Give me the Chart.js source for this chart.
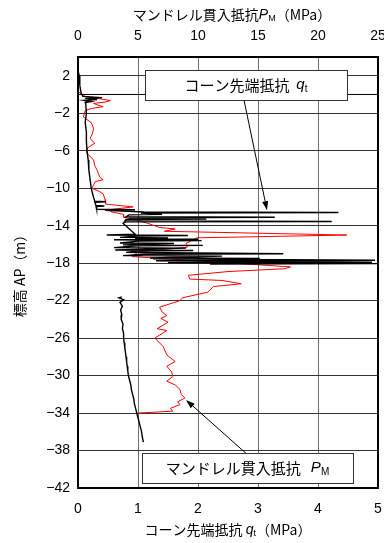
<!DOCTYPE html>
<html>
<head>
<meta charset="utf-8">
<script src="https://cdn.jsdelivr.net/npm/chart.js@4.4.1/dist/chart.umd.min.js"></script>
<style>
  html, body { margin: 0; padding: 0; background: #fff; }
  canvas { display: block; }
</style>
</head>
<body>
<canvas id="profile" width="384" height="543"></canvas>
<script>
// axis ticks
const qtTicks = [0, 1, 2, 3, 4, 5];
const pmTicks = [0, 5, 10, 15, 20, 25];
const elevTicks = [2, -2, -6, -10, -14, -18, -22, -26, -30, -34, -38, -42];

// cone tip resistance qt (MPa), upper sounding
const qtUpperElev = [2.6, 2.0, 1.0, 0.2, -0.2, -0.35, -0.42, -0.55, -0.62, -0.75, -0.85, -1.1, -2.0, -3.0, -4.0, -5.0, -6.0, -7.0, -8.0, -9.0, -10.0, -11.0,
  -11.4, -11.45, -11.5, -11.85, -11.9, -11.95, -12.25, -12.3, -12.35, -12.55, -12.6, -12.65, -12.8, -12.85, -13.05, -13.1, -13.15, -13.3, -13.35,
  -13.5, -13.55, -13.6, -13.75, -14.9, -15.0, -15.05, -15.1, -15.25, -15.3, -15.4, -15.45, -15.5, -15.6, -15.65, -15.85, -15.9, -16.05, -16.1, -16.15,
  -16.35, -16.4, -16.6, -16.65, -16.7, -16.85, -16.9, -17.0, -17.05, -17.2, -17.25, -17.45, -17.5, -17.55, -17.7, -17.75, -17.9, -17.95, -18.05, -18.1];
const qtUpperVal = [0.00, 0.02, 0.03, 0.05, 0.08, 0.40, 0.12, 0.32, 0.10, 0.22, 0.12, 0.13, 0.14, 0.12, 0.14, 0.14, 0.15, 0.17, 0.18, 0.20, 0.22, 0.26,
  0.28, 0.46, 0.28, 0.30, 0.44, 0.30, 0.31, 0.95, 0.45, 1.10, 4.34, 1.05, 1.40, 0.85, 0.80, 3.28, 0.85, 2.14, 0.80,
  0.78, 4.23, 0.80, 0.75, 0.95, 0.48, 1.83, 1.00, 0.70, 1.50, 0.95, 2.00, 0.60, 2.06, 1.00, 0.70, 1.60, 0.75, 2.08, 1.00,
  0.60, 1.80, 0.62, 1.92, 1.00, 0.80, 1.50, 3.42, 1.10, 0.75, 2.40, 1.20, 3.03, 1.25, 4.95, 1.30, 4.90, 1.50, 5.00, 2.20];

// cone tip resistance qt (MPa), lower sounding
const qtLowerElev = [-21.6, -21.7, -21.9, -22.2, -22.6, -23.0, -23.5, -24.0, -24.5, -25.0, -25.5, -26.0, -26.5, -27.0, -27.5, -28.0, -28.5,
  -29.0, -29.5, -30.0, -30.5, -31.0, -31.5, -32.0, -32.5, -33.0, -33.5, -34.0, -34.5, -35.0, -35.5, -36.0, -36.5, -37.1];
const qtLowerVal = [0.73, 0.68, 0.76, 0.70, 0.74, 0.71, 0.73, 0.72, 0.75, 0.74, 0.76, 0.76, 0.77, 0.78, 0.79, 0.80, 0.81,
  0.82, 0.83, 0.84, 0.86, 0.88, 0.89, 0.91, 0.93, 0.94, 0.96, 0.98, 1.00, 1.02, 1.04, 1.06, 1.07, 1.09];

// mandrel penetration resistance PM (MPa)
const pmElev = [0.3, -0.2, -0.45, -0.65, -0.8, -0.95, -1.1, -1.3, -1.5, -1.7, -2.4, -3.0, -3.6, -4.2, -4.7, -5.2, -5.7, -6.2, -7.0, -7.6,
  -8.1, -8.8, -9.1, -9.3, -10.0, -10.3, -10.6, -11.2, -11.7, -12.0, -12.3, -12.5, -12.8, -13.1, -13.4, -13.7, -14.2, -14.35, -14.6, -15.0,
  -15.3, -15.5, -15.9, -16.3, -16.8, -17.3, -18.4, -18.6, -18.9, -19.3, -19.7, -19.85, -20.2, -20.5, -21.1, -21.7, -22.0, -22.7, -23.2,
  -23.6, -23.9, -24.3, -25.0, -25.2, -26.0, -26.9, -27.8, -28.5, -29.0, -29.6, -30.1, -30.6, -31.0, -31.5, -32.0, -32.4, -32.8, -33.1,
  -33.5, -33.8, -33.9, -34.0];
const pmVal = [0.0, 0.6, 1.8, 2.7, 2.3, 1.3, 1.6, 2.1, 1.1, 0.6, 0.45, 1.1, 1.3, 1.2, 1.0, 1.4, 0.8, 0.7, 1.3, 1.4,
  1.6, 1.8, 2.1, 1.45, 1.15, 1.7, 2.1, 2.25, 2.3, 4.6, 2.6, 2.7, 3.8, 3.8, 4.9, 5.7, 6.8, 8.1, 7.2, 22.4,
  9.9, 9.6, 9.0, 9.1, 5.0, 4.5, 17.7, 17.2, 12.5, 9.2, 9.3, 12.0, 13.6, 11.3, 10.8, 8.7, 8.5, 6.8, 7.0,
  7.4, 6.9, 7.5, 6.6, 7.4, 6.4, 7.1, 7.4, 8.1, 7.4, 7.8, 7.9, 7.4, 8.1, 8.5, 8.6, 8.9, 8.3, 8.5,
  7.7, 7.9, 6.5, 5.0];

// ground line
const groundElev = 0;

const toPoints = (vals, elevs) => vals.map((v, i) => ({ x: v, y: elevs[i] }));
const fixedTicks = list => scale => { scale.ticks = list.map(v => ({ value: v })); };

const jpFont = '"Noto Sans CJK JP", sans-serif';
const numFont = '"Liberation Sans", Arial, sans-serif';

function drawRich(ctx, parts, cx, cy) {
  let total = 0;
  parts.forEach(p => { ctx.font = p.font; p.w = ctx.measureText(p.text).width; total += p.w; });
  let x = cx - total / 2;
  ctx.textAlign = 'left';
  ctx.textBaseline = 'middle';
  ctx.fillStyle = '#000';
  parts.forEach(p => { ctx.font = p.font; ctx.fillText(p.text, x, cy + (p.dy || 0)); x += p.w; });
}

function arrow(ctx, x0, y0, x1, y1) {
  const ang = Math.atan2(y1 - y0, x1 - x0);
  const len = 9, half = 3;
  ctx.beginPath();
  ctx.moveTo(x0, y0);
  ctx.lineTo(x1 - Math.cos(ang) * len, y1 - Math.sin(ang) * len);
  ctx.stroke();
  ctx.beginPath();
  ctx.moveTo(x1, y1);
  ctx.lineTo(x1 - Math.cos(ang) * len - Math.sin(ang) * half, y1 - Math.sin(ang) * len + Math.cos(ang) * half);
  ctx.lineTo(x1 - Math.cos(ang) * len + Math.sin(ang) * half, y1 - Math.sin(ang) * len - Math.cos(ang) * half);
  ctx.closePath();
  ctx.fill();
}

function labelBox(ctx, sx, sy, x0, x1, y0, y1, parts) {
  const l = sx.getPixelForValue(x0), r = sx.getPixelForValue(x1);
  const t = sy.getPixelForValue(y0), b = sy.getPixelForValue(y1);
  ctx.fillStyle = '#fff';
  ctx.fillRect(l, t, r - l, b - t);
  ctx.strokeStyle = '#333';
  ctx.lineWidth = 1;
  ctx.strokeRect(Math.round(l) + 0.5, Math.round(t) + 0.5, Math.round(r - l), Math.round(b - t));
  drawRich(ctx, parts, (l + r) / 2, (t + b) / 2);
}

const overlay = {
  id: 'overlay',
  afterDatasetsDraw(chart) {
    const { ctx, chartArea: a, scales } = chart;
    const { x, x2, y } = scales;
    ctx.save();

    // callouts
    ctx.strokeStyle = '#000';
    ctx.fillStyle = '#000';
    ctx.lineWidth = 1;
    arrow(ctx, x.getPixelForValue(2.77), y.getPixelForValue(-0.7), x.getPixelForValue(3.15), y.getPixelForValue(-12.35));
    arrow(ctx, x.getPixelForValue(2.8), y.getPixelForValue(-38.3), x2.getPixelForValue(9.0), y.getPixelForValue(-32.6));

    labelBox(ctx, x, y, 1.12, 4.48, 2.6, -0.62, [
      { text: 'コーン先端抵抗  ', font: '15px ' + jpFont },
      { text: 'q', font: 'italic 15px ' + numFont },
      { text: 't', font: '10px ' + numFont, dy: 4 }
    ]);
    labelBox(ctx, x, y, 1.07, 4.58, -38.27, -41.47, [
      { text: 'マンドレル貫入抵抗   ', font: '15px ' + jpFont },
      { text: 'P', font: 'italic 15px ' + numFont },
      { text: 'M', font: '10px ' + numFont, dy: 4 }
    ]);

    // plot frame
    ctx.strokeStyle = '#000';
    ctx.lineWidth = 2;
    ctx.strokeRect(a.left, a.top, a.right - a.left, a.bottom - a.top);

    // axis titles
    drawRich(ctx, [
      { text: 'マンドレル貫入抵抗', font: '14px ' + jpFont },
      { text: 'P', font: 'italic 14px ' + numFont },
      { text: 'M', font: '9px ' + numFont, dy: 4 },
      { text: '（MPa）', font: '14px ' + jpFont }
    ], (a.left + a.right) / 2 + 4, 15);
    drawRich(ctx, [
      { text: 'コーン先端抵抗 ', font: '14px ' + jpFont },
      { text: 'q', font: 'italic 14px ' + numFont },
      { text: 't', font: '9px ' + numFont, dy: 4 },
      { text: '（MPa）', font: '14px ' + jpFont }
    ], (a.left + a.right) / 2, 530);
    ctx.translate(20, (a.top + a.bottom) / 2);
    ctx.rotate(-Math.PI / 2);
    drawRich(ctx, [
      { text: '標高 AP（m）', font: '14px ' + jpFont }
    ], 0, 0);
    ctx.restore();
  }
};

const tickFont = { family: numFont, size: 14 };
const fitHorizontal = h => s => { s.height = h; s.paddingLeft = 0; s.paddingRight = 0; };

new Chart(document.getElementById('profile'), {
  type: 'scatter',
  data: {
    datasets: [
      {
        data: [{ x: 0, y: groundElev }, { x: 5, y: groundElev }],
        xAxisID: 'x', showLine: true, borderColor: '#000', borderWidth: 1, pointRadius: 0
      },
      {
        data: toPoints(qtUpperVal, qtUpperElev),
        xAxisID: 'x', showLine: true, borderColor: '#000', borderWidth: 1.4, pointRadius: 0
      },
      {
        data: toPoints(qtLowerVal, qtLowerElev),
        xAxisID: 'x', showLine: true, borderColor: '#000', borderWidth: 1.4, pointRadius: 0
      },
      {
        data: toPoints(pmVal, pmElev),
        xAxisID: 'x2', showLine: true, borderColor: '#ff0000', borderWidth: 1, pointRadius: 0
      }
    ]
  },
  options: {
    responsive: false,
    animation: false,
    devicePixelRatio: 1,
    layout: { padding: { left: 0, right: 6, top: 0, bottom: 0 } },
    plugins: { legend: { display: false }, tooltip: { enabled: false } },
    scales: {
      x: {
        type: 'linear', position: 'bottom', min: 0, max: 5,
        afterBuildTicks: fixedTicks(qtTicks),
        afterFit: fitHorizontal(55),
        ticks: { font: tickFont, color: '#000', padding: 13 },
        grid: { color: '#707070', lineWidth: 1, drawTicks: false },
        border: { display: false }
      },
      x2: {
        type: 'linear', position: 'top', min: 0, max: 25,
        afterBuildTicks: fixedTicks(pmTicks),
        afterFit: fitHorizontal(57),
        ticks: { font: tickFont, color: '#000', padding: 12 },
        grid: { display: false, drawTicks: false },
        border: { display: false }
      },
      y: {
        type: 'linear', min: -42, max: 4,
        afterBuildTicks: fixedTicks(elevTicks),
        afterFit: s => { s.width = 78; s.paddingTop = 0; s.paddingBottom = 0; },
        ticks: { font: tickFont, color: '#000', padding: 8, callback: v => String(v).replace('-', '−') },
        grid: { color: '#333', lineWidth: 1, drawTicks: false },
        border: { display: false }
      }
    }
  },
  plugins: [overlay]
});
</script>
</body>
</html>
